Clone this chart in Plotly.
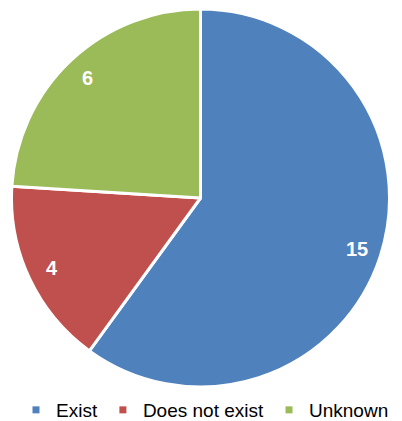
import math
import plotly.graph_objects as go

categories = ["Exist", "Does not exist", "Unknown"]
values = [15, 4, 6]
colors = ["#4F81BD", "#C0504D", "#9BBB59"]

# the page body has an 8px default margin; positions below are in figure px
W, H = 402, 421
PX0, PX1 = 3, 382      # pie horizontal extent (figure px)
PY0, PY1 = 1, 379      # pie vertical extent (figure px)

fig = go.Figure()
fig.add_trace(go.Pie(
    labels=categories,
    values=values,
    sort=False,
    direction="clockwise",
    rotation=0,
    marker=dict(colors=colors, line=dict(color="white", width=3)),
    textinfo="none",
    showlegend=False,
    domain=dict(x=[PX0 / W, PX1 / W], y=[1 - PY1 / H, 1 - PY0 / H]),
    hoverinfo="label+value",
))

# data labels placed near the outer part of each slice (angles derived from values)
cx, cy = (PX0 + PX1) / 2, (PY0 + PY1) / 2
r = min(PX1 - PX0, PY1 - PY0) / 2
total = sum(values)
cum = 0
for v in values:
    theta = 2 * math.pi * (cum + v / 2) / total
    cum += v
    px = cx + 0.87 * r * math.sin(theta)
    py = cy - 0.87 * r * math.cos(theta)
    fig.add_annotation(
        x=px / W, y=1 - py / H, xref="paper", yref="paper",
        text=f"<b>{v}</b>", showarrow=False,
        xanchor="center", yanchor="middle",
        font=dict(family="Liberation Sans, Arial", size=20, color="white"),
    )

# legend entries with small square markers
for name, col in zip(categories, colors):
    fig.add_trace(go.Scatter(
        x=[None], y=[None], mode="markers", name=name,
        marker=dict(symbol="square", size=7, color=col),
        showlegend=True,
    ))

fig.update_layout(
    width=W, height=H,
    margin=dict(l=0, r=0, t=0, b=0, autoexpand=False),
    paper_bgcolor="white", plot_bgcolor="white",
    xaxis=dict(visible=False), yaxis=dict(visible=False),
    font=dict(family="Liberation Sans, Arial", color="black"),
    legend=dict(
        orientation="h", x=8 / W, xanchor="left", y=1 - 402 / H, yanchor="middle",
        font=dict(size=19, color="black"),
        itemwidth=30, tracegroupgap=0,
        bgcolor="rgba(0,0,0,0)",
    ),
)

fig.write_html("out.html")
